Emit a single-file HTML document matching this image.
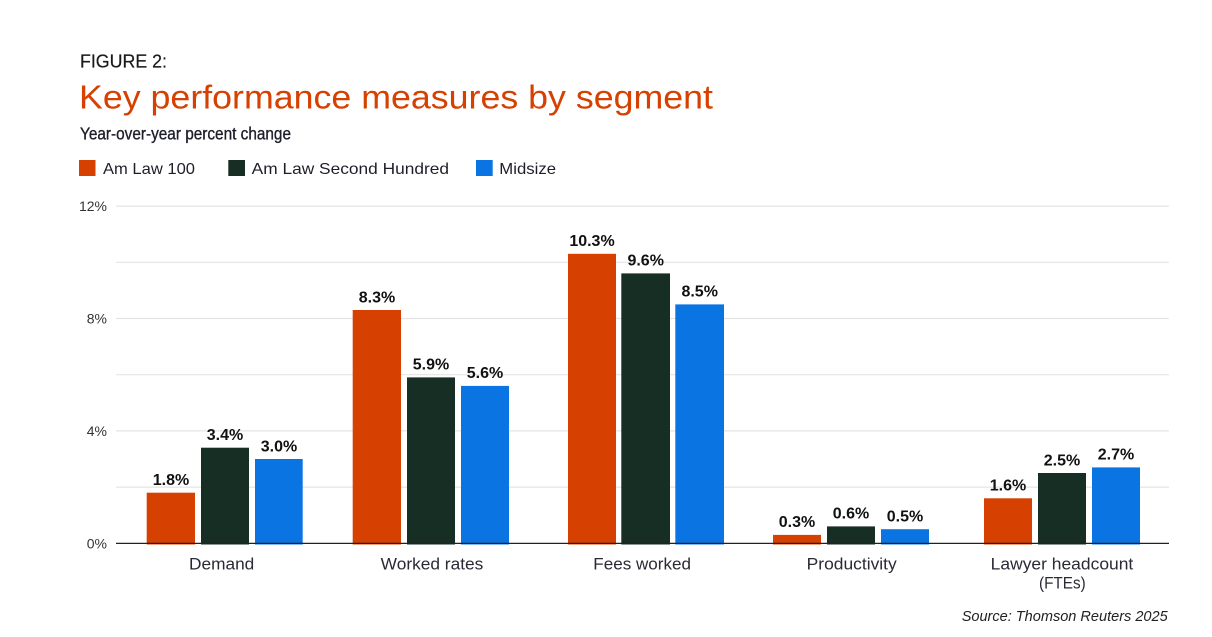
<!DOCTYPE html>
<html>
<head>
<meta charset="utf-8">
<style>
  html,body{margin:0;padding:0;background:#fff;}
  svg{display:block;}
  text{font-family:"Liberation Sans", sans-serif;}
</style>
</head>
<body>
<svg width="1212" height="637" viewBox="0 0 1212 637" xmlns="http://www.w3.org/2000/svg">
  <rect width="1212" height="637" fill="#fff"/>

  <!-- Header -->
  <text x="80" y="67.7" font-size="18.5" fill="#1a1a1a" stroke="#1a1a1a" stroke-width="0.2" textLength="87" lengthAdjust="spacingAndGlyphs">FIGURE 2:</text>
  <text x="79" y="108.3" font-size="33" fill="#D64000" textLength="634" lengthAdjust="spacingAndGlyphs">Key performance measures by segment</text>
  <text x="80" y="139.5" font-size="17.5" fill="#1e1e2a" stroke="#1e1e2a" stroke-width="0.35" textLength="211" lengthAdjust="spacingAndGlyphs">Year-over-year percent change</text>

  <!-- Legend -->
  <rect x="79" y="160" width="16.5" height="16" fill="#D64000"/>
  <text x="103" y="174" font-size="16" fill="#1e1e2a" textLength="92" lengthAdjust="spacingAndGlyphs">Am Law 100</text>
  <rect x="228.3" y="160" width="16.7" height="16" fill="#162E23"/>
  <text x="251.7" y="174" font-size="16" fill="#1e1e2a" textLength="197.3" lengthAdjust="spacingAndGlyphs">Am Law Second Hundred</text>
  <rect x="476" y="160" width="16.7" height="16" fill="#0A74E3"/>
  <text x="499.3" y="174" font-size="16" fill="#1e1e2a" textLength="56.7" lengthAdjust="spacingAndGlyphs">Midsize</text>

  <!-- Gridlines -->
  <g stroke="#e4e4e4" stroke-width="1.2">
    <line x1="116" y1="206.1" x2="1169" y2="206.1"/>
    <line x1="116" y1="262.3" x2="1169" y2="262.3"/>
    <line x1="116" y1="318.5" x2="1169" y2="318.5"/>
    <line x1="116" y1="374.7" x2="1169" y2="374.7"/>
    <line x1="116" y1="430.9" x2="1169" y2="430.9"/>
    <line x1="116" y1="487.1" x2="1169" y2="487.1"/>
  </g>

  <!-- Y tick labels -->
  <g font-size="14" fill="#333" text-anchor="end">
    <text x="107" y="211">12%</text>
    <text x="107" y="323.5">8%</text>
    <text x="107" y="436">4%</text>
    <text x="107" y="548.5">0%</text>
  </g>

  <!-- Bars -->
  <g>
    <rect x="146.7" y="492.7" width="48.3" height="51.8" fill="#D64000"/>
    <rect x="201" y="447.7" width="48" height="96.8" fill="#162E23"/>
    <rect x="255" y="459.0" width="47.7" height="85.5" fill="#0A74E3"/>

    <rect x="352.7" y="310.0" width="48.3" height="234.5" fill="#D64000"/>
    <rect x="407" y="377.4" width="48" height="167.1" fill="#162E23"/>
    <rect x="461" y="385.9" width="48" height="158.6" fill="#0A74E3"/>

    <rect x="568" y="253.8" width="48" height="290.7" fill="#D64000"/>
    <rect x="621.3" y="273.4" width="48.7" height="271.1" fill="#162E23"/>
    <rect x="675.3" y="304.4" width="48.7" height="240.1" fill="#0A74E3"/>

    <rect x="773" y="534.9" width="48" height="9.6" fill="#D64000"/>
    <rect x="827" y="526.4" width="48" height="18.1" fill="#162E23"/>
    <rect x="881" y="529.2" width="48" height="15.3" fill="#0A74E3"/>

    <rect x="984" y="498.3" width="48" height="46.2" fill="#D64000"/>
    <rect x="1038" y="473.0" width="48" height="71.5" fill="#162E23"/>
    <rect x="1092" y="467.4" width="48" height="77.1" fill="#0A74E3"/>
  </g>

  <!-- Axis line -->
  <line x1="116" y1="543.4" x2="1169" y2="543.4" stroke="#222" stroke-width="1.3"/>

  <!-- Value labels -->
  <g font-size="16" font-weight="bold" fill="#111" text-anchor="middle">
    <text x="171" y="485">1.8%</text>
    <text x="225" y="440">3.4%</text>
    <text x="279" y="451.3">3.0%</text>

    <text x="377" y="302.3">8.3%</text>
    <text x="431" y="369.7">5.9%</text>
    <text x="485" y="378.2">5.6%</text>

    <text x="592" y="246.1">10.3%</text>
    <text x="645.7" y="265.7">9.6%</text>
    <text x="699.7" y="296.7">8.5%</text>

    <text x="797" y="527.2">0.3%</text>
    <text x="851" y="518.7">0.6%</text>
    <text x="905" y="521.5">0.5%</text>

    <text x="1008" y="490.6">1.6%</text>
    <text x="1062" y="465.3">2.5%</text>
    <text x="1116" y="459.7">2.7%</text>
  </g>

  <!-- Category labels -->
  <g font-size="16.5" fill="#2a2a35">
    <text x="189" y="569.3" textLength="65.3" lengthAdjust="spacingAndGlyphs">Demand</text>
    <text x="380.7" y="569.3" textLength="102.6" lengthAdjust="spacingAndGlyphs">Worked rates</text>
    <text x="593.3" y="569.3" textLength="97.7" lengthAdjust="spacingAndGlyphs">Fees worked</text>
    <text x="806.7" y="569.3" textLength="90" lengthAdjust="spacingAndGlyphs">Productivity</text>
    <text x="990.7" y="569.3" textLength="142.6" lengthAdjust="spacingAndGlyphs">Lawyer headcount</text>
    <text x="1039" y="588.5" font-size="17" textLength="46.7" lengthAdjust="spacingAndGlyphs">(FTEs)</text>
  </g>

  <!-- Source -->
  <text x="961.7" y="621" font-size="15" font-style="italic" fill="#222" textLength="206" lengthAdjust="spacingAndGlyphs">Source: Thomson Reuters 2025</text>
</svg>
</body>
</html>
